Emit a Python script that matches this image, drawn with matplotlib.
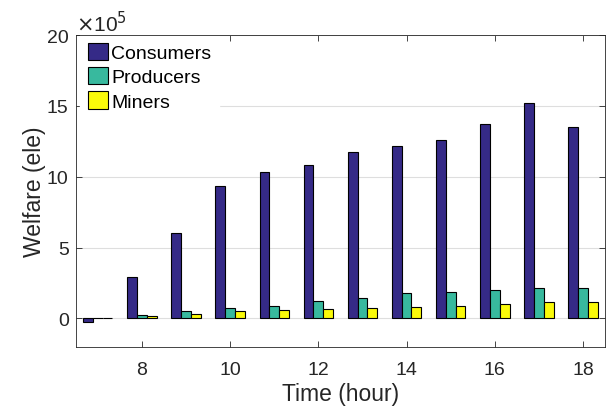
import matplotlib.pyplot as plt
import numpy as np

plt.rcParams['font.family'] = ['Liberation Sans', 'DejaVu Sans']

hours = np.arange(7, 19)
consumers = [-0.25, 2.95, 6.0, 9.37, 10.35, 10.85, 11.78, 12.18, 12.6, 13.73, 15.21, 13.54]
producers = [0.05, 0.24, 0.49, 0.73, 0.87, 1.22, 1.43, 1.76, 1.83, 1.97, 2.14, 2.11]
miners = [0.03, 0.16, 0.31, 0.52, 0.61, 0.66, 0.73, 0.77, 0.85, 0.99, 1.13, 1.13]
labels = ["Consumers", "Producers", "Miners"]
colors = ["#352A87", "#38B99E", "#FAFA0A"]

AX_COLOR = "#262626"

fig = plt.figure(figsize=(6.15, 4.1), dpi=100)
ax = fig.add_axes([0.123, 0.152, 0.861, 0.760])

w = 0.222
for i, (vals, lab, col) in enumerate(zip([consumers, producers, miners], labels, colors)):
    ax.bar(hours + (i - 1) * w, vals, width=w, color=col, edgecolor="black",
           linewidth=0.8, label=lab, zorder=3)

ax.set_xlim(6.5, 18.5)
ax.set_ylim(-2, 20)
ax.set_xticks(np.arange(8, 19, 2))
ax.set_yticks([0, 5, 10, 15, 20])
ax.yaxis.grid(True, color="#dedede", linewidth=0.8, zorder=0)
ax.set_axisbelow(True)

ax.tick_params(direction="in", top=True, right=True, labelsize=14,
               colors=AX_COLOR, length=4, width=0.6, pad=5)
ax.tick_params(axis="x", pad=10.5)
for s in ax.spines.values():
    s.set_color(AX_COLOR)
    s.set_linewidth(0.6)

ax.set_xlabel("Time (hour)", fontsize=16.5, color=AX_COLOR, labelpad=2.5)
ax.set_ylabel("Welfare (ele)", fontsize=16.5, color=AX_COLOR, labelpad=0.5)

# exponent marker above the y axis
ax.text(0.0, 1.0, r"$\times$10$^5$", transform=ax.transAxes, fontsize=15,
        color=AX_COLOR, ha="left", va="bottom")

leg = ax.legend(loc="upper left", bbox_to_anchor=(0.008, 1.0), frameon=True,
                fontsize=14, handlelength=1.05, handleheight=1.0,
                handletextpad=0.15, labelspacing=0.25, borderaxespad=0.0,
                borderpad=0.4)
leg.get_frame().set_edgecolor("white")
leg.get_frame().set_facecolor("white")
leg.get_frame().set_alpha(1.0)
leg.get_frame().set_boxstyle("square", pad=0)
leg.set_zorder(2.4)  # keep the spines drawn over the white legend box

fig.savefig("out.png", dpi=100)
